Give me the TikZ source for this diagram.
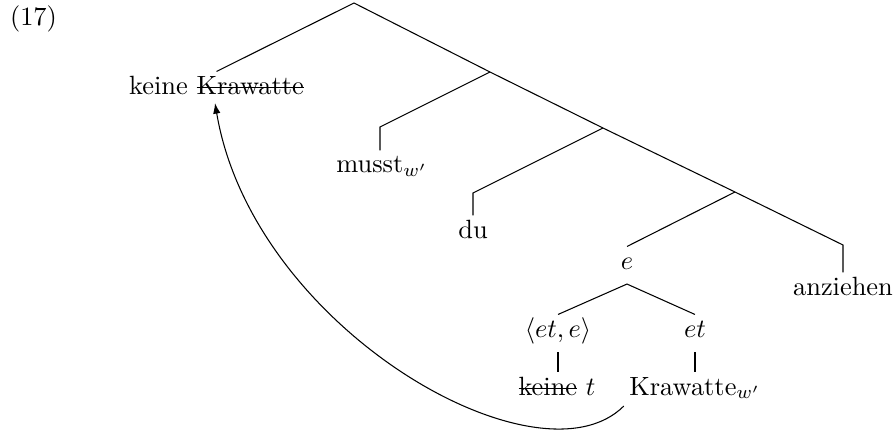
\documentclass[tikz,border=0pt]{standalone}
\usetikzlibrary{calc,arrows.meta}
\newcommand\strikeword[1]{\setbox0=\hbox{#1}\rlap{\rule[0.5ex]{\wd0}{0.6pt}}\box0\relax}
\begin{document}
\begin{tikzpicture}[x=0.3788pt,y=-0.3788pt,
  lbl/.style={inner xsep=0pt,inner ysep=0pt,text height=8.33pt,text depth=5.5pt,anchor=base},
  mv/.style={-{Latex[length=4pt,width=2.8pt]}}]
\useasboundingbox (0,0) rectangle (896,432);
\node[anchor=base west,inner sep=0pt] (num) at (9.5,25) {(17)};
\coordinate (root) at (354,3);
\coordinate (A) at (490,72);
\coordinate (B) at (603,128);
\coordinate (C) at (735,192);
\coordinate (m1) at (380,127);
\coordinate (d1) at (473,193);
\coordinate (a1) at (843,245);
\node[lbl] (kk) at (216.5,94) {keine \strikeword{Krawatte}};
\node[lbl] (musst) at (382,173) {musst$_{w'}$};
\node[lbl] (du) at (473,238) {du};
\node[lbl] (e) at (627,269) {$e$};
\node[lbl] (anz) at (843,295) {anziehen};
\node[lbl] (ang) at (558,337) {$\langle et,e\rangle$};
\node[lbl] (et) at (695,337) {$et$};
\node[lbl] (kt) at (557,395) {\strikeword{keine} $t$};
\node[lbl] (kw) at (695,395) {Krawatte$_{w'}$};
\draw (kk.north) -- (root) -- (A) -- (B) -- (C) -- (a1) -- (a1 |- anz.north);
\draw (A) -- (m1) -- (m1 |- musst.north);
\draw (B) -- (d1) -- (d1 |- du.north);
\draw (C) -- (e.north);
\draw (ang.north) -- (e.south) -- (et.north);
\draw (ang.south) -- (ang.south |- kt.north);
\draw (et.south) -- (et.south |- kw.north);
\draw[mv] ($(kw.south west)+(-5,-4)$) .. controls (539,491) and (253,329) .. ($(kk.south)+(-1.5,-6)$);
\end{tikzpicture}
\end{document}
